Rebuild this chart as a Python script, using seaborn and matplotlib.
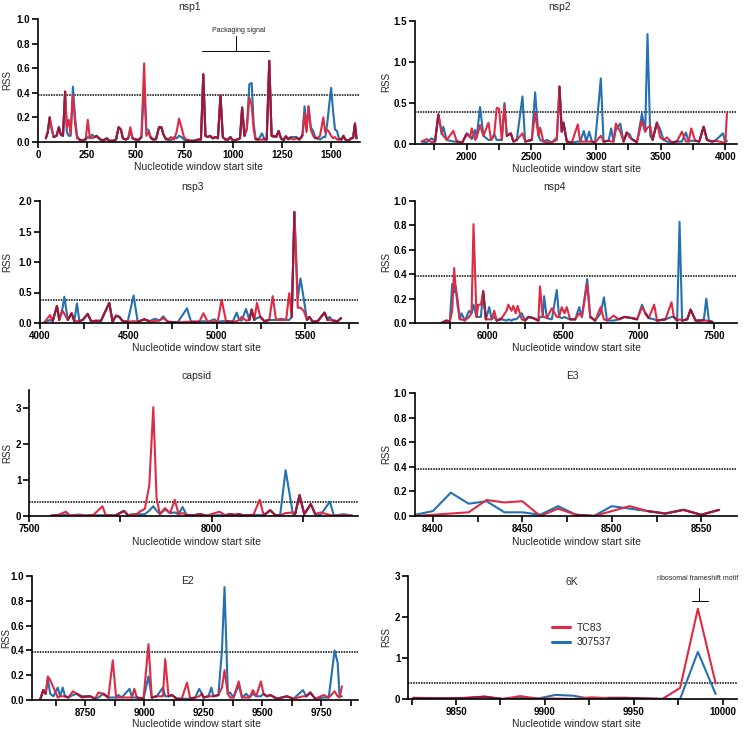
import numpy as np
import matplotlib
matplotlib.use("Agg")
import matplotlib.pyplot as plt
import seaborn as sns
from matplotlib.ticker import MultipleLocator, FormatStrFormatter
from matplotlib.lines import Line2D

sns.set_theme(style="ticks")
plt.rcParams["font.family"] = ["Liberation Sans", "DejaVu Sans"]
plt.rcParams["font.weight"] = "bold"

series_labels = ["TC83", "307537"]
threshold = 0.385

# ---------------- nsp1 ----------------
nsp1_pos = [40, 50, 60, 70, 80, 95, 107, 117, 128, 139,
            148, 158, 167, 179, 190, 200, 212, 230, 245, 255,
            265, 277, 290, 300, 312, 325, 340, 352, 365, 385,
            400, 413, 425, 435, 450, 462, 473, 485, 500, 515,
            530, 544, 555, 566, 578, 590, 605, 620, 632, 643,
            655, 668, 680, 697, 710, 723, 735, 748, 760, 780,
            800, 820, 835, 847, 858, 870, 882, 895, 910, 922,
            935, 947, 960, 975, 986, 1000, 1020, 1035, 1046, 1058,
            1070, 1083, 1095, 1105, 1115, 1130, 1148, 1158, 1172, 1185,
            1197, 1210, 1222, 1233, 1245, 1258, 1270, 1282, 1295, 1310,
            1325, 1340, 1355, 1366, 1376, 1386, 1398, 1410, 1420, 1432,
            1445, 1462, 1472, 1482, 1492, 1502, 1512, 1522, 1532, 1542,
            1555, 1565, 1575, 1590, 1605, 1615, 1624, 1632]
nsp1_tc83 = [.03, .08, .20, .12, .04, .05, .12, .06, .05, .41,
             .12, .18, .06, .38, .15, .03, .02, .01, .03, .18,
             .04, .03, .04, .05, .03, .01, .02, .03, .01, .01,
             .02, .12, .10, .03, .02, .03, .12, .03, .02, .02,
             .04, .64, .05, .08, .03, .02, .02, .12, .12, .06,
             .03, .02, .04, .02, .08, .19, .12, .04, .02, .01,
             .01, .02, .02, .55, .05, .04, .05, .03, .04, .03,
             .38, .04, .02, .02, .04, .01, .02, .03, .28, .05,
             .10, .36, .30, .10, .02, .02, .02, .02, .02, .66,
             .05, .05, .04, .09, .03, .02, .05, .02, .03, .02,
             .03, .02, .05, .23, .08, .29, .10, .05, .03, .03,
             .05, .20, .08, .10, .08, .05, .03, .04, .02, .02,
             .02, .05, .02, .01, .03, .04, .15, .03]
nsp1_307537 = [.03, .08, .20, .10, .04, .05, .12, .06, .05, .41,
               .08, .05, .05, .45, .20, .05, .02, .01, .02, .04,
               .03, .06, .04, .05, .03, .02, .01, .03, .01, .01,
               .02, .12, .10, .03, .02, .03, .08, .03, .02, .01,
               .04, .46, .10, .10, .04, .02, .03, .12, .12, .06,
               .02, .02, .01, .04, .03, .05, .04, .02, .01, .01,
               .01, .02, .02, .55, .05, .04, .05, .03, .04, .03,
               .38, .04, .02, .02, .04, .01, .02, .03, .28, .05,
               .12, .47, .48, .15, .03, .02, .07, .03, .02, .66,
               .05, .04, .05, .09, .03, .01, .04, .03, .04, .04,
               .04, .02, .06, .29, .10, .29, .12, .09, .04, .03,
               .02, .04, .04, .15, .30, .44, .25, .10, .09, .03,
               .02, .05, .02, .01, .03, .03, .15, .03]

# ---------------- nsp2 ----------------
nsp2_pos = [1652, 1690, 1729, 1755, 1781, 1806, 1819, 1845, 1897, 1923,
            1966, 2000, 2026, 2039, 2065, 2077, 2103, 2129, 2168, 2188,
            2212, 2232, 2250, 2271, 2292, 2310, 2341, 2361, 2387, 2431,
            2452, 2503, 2529, 2555, 2568, 2593, 2619, 2658, 2697, 2717,
            2735, 2748, 2774, 2813, 2859, 2877, 2906, 2924, 2947, 2968,
            2993, 3037, 3058, 3097, 3117, 3135, 3153, 3187, 3213, 3238,
            3259, 3277, 3316, 3355, 3380, 3398, 3419, 3437, 3471, 3496,
            3522, 3548, 3587, 3625, 3664, 3695, 3716, 3736, 3767, 3798,
            3832, 3858, 3896, 3922, 3981, 4000, 4012]
nsp2_tc83 = [.03, .06, .02, .03, .36, .15, .10, .05, .16, .03,
             .02, .12, .08, .19, .05, .08, .23, .10, .26, .05,
             .10, .44, .43, .05, .47, .10, .13, .03, .05, .13,
             .03, .05, .38, .10, .20, .03, .02, .02, .05, .70,
             .15, .26, .03, .02, .24, .03, .03, .03, .03, .03,
             .02, .10, .03, .04, .03, .03, .25, .15, .03, .14,
             .08, .06, .02, .28, .15, .20, .22, .05, .26, .08,
             .05, .08, .02, .03, .15, .03, .03, .19, .04, .03,
             .21, .05, .03, .04, .02, .02, .37]
nsp2_307537 = [.03, .02, .07, .03, .36, .12, .21, .05, .03, .03,
               .02, .13, .10, .06, .17, .08, .45, .10, .05, .05,
               .12, .05, .05, .05, .50, .10, .13, .03, .05, .58,
               .03, .05, .63, .10, .05, .03, .05, .02, .08, .70,
               .15, .26, .03, .02, .03, .03, .16, .03, .15, .03,
               .02, .80, .03, .04, .19, .03, .17, .25, .03, .14,
               .12, .06, .02, .37, .15, 1.34, .10, .05, .26, .18,
               .05, .03, .02, .03, .03, .14, .03, .04, .04, .03,
               .21, .05, .03, .04, .13, .02, .04]

# ---------------- nsp3 ----------------
nsp3_pos = [4025, 4057, 4072, 4096, 4109, 4128, 4138, 4157, 4179, 4194,
            4209, 4223, 4242, 4270, 4289, 4317, 4345, 4392, 4411, 4430,
            4449, 4468, 4496, 4530, 4553, 4591, 4619, 4651, 4676, 4698,
            4723, 4779, 4832, 4855, 4902, 4925, 4949, 4987, 5006, 5028,
            5053, 5091, 5113, 5128, 5142, 5166, 5185, 5198, 5213, 5228,
            5247, 5270, 5298, 5317, 5336, 5364, 5393, 5411, 5425, 5440,
            5459, 5474, 5493, 5511, 5525, 5544, 5572, 5610, 5628, 5638,
            5657, 5685, 5704]
nsp3_tc83 = [.01, .13, .03, .28, .05, .20, .15, .05, .16, .03,
             .03, .03, .05, .15, .03, .03, .04, .33, .02, .12,
             .10, .03, .02, .03, .02, .06, .03, .03, .04, .08,
             .02, .01, .02, .02, .02, .16, .02, .02, .02, .38,
             .03, .02, .03, .05, .10, .04, .05, .22, .05, .33,
             .10, .03, .05, .44, .05, .05, .05, .49, .10, 1.82,
             .25, .25, .20, .05, .10, .02, .03, .17, .05, .05,
             .04, .03, .08]
nsp3_307537 = [.01, .05, .03, .28, .05, .25, .43, .05, .16, .03,
               .32, .03, .05, .15, .03, .04, .03, .33, .02, .12,
               .10, .03, .02, .45, .02, .06, .03, .07, .04, .11,
               .02, .01, .24, .02, .02, .03, .02, .06, .02, .03,
               .03, .02, .17, .05, .04, .23, .05, .22, .05, .08,
               .10, .03, .05, .05, .05, .07, .05, .05, .10, 1.82,
               .40, .73, .40, .05, .10, .02, .03, .17, .05, .10,
               .04, .03, .08]

# ---------------- nsp4 ----------------
nsp4_pos = [5695, 5728, 5750, 5766, 5779, 5788, 5801, 5816, 5827, 5850,
            5878, 5894, 5907, 5927, 5938, 5956, 5971, 5989, 6011, 6027,
            6044, 6060, 6093, 6126, 6137, 6159, 6170, 6186, 6199, 6226,
            6248, 6270, 6303, 6336, 6347, 6365, 6374, 6392, 6425, 6458,
            6473, 6491, 6509, 6524, 6546, 6580, 6606, 6624, 6659, 6679,
            6712, 6748, 6770, 6790, 6834, 6867, 6907, 6956, 6989, 7022,
            7044, 7066, 7102, 7121, 7177, 7217, 7232, 7254, 7270, 7287,
            7321, 7343, 7376, 7409, 7431, 7447, 7464, 7486]
nsp4_tc83 = [.00, .02, .01, .10, .45, .30, .20, .03, .03, .02,
             .05, .08, .81, .05, .15, .15, .26, .03, .03, .03,
             .10, .02, .04, .10, .15, .10, .14, .08, .14, .03,
             .02, .05, .04, .02, .30, .05, .05, .04, .12, .05,
             .05, .13, .08, .13, .03, .03, .08, .05, .32, .05,
             .02, .13, .03, .02, .06, .03, .05, .04, .03, .13,
             .08, .04, .15, .02, .03, .17, .05, .02, .03, .02,
             .03, .11, .02, .02, .02, .02, .01, .01]
nsp4_307537 = [.00, .02, .01, .32, .25, .30, .15, .03, .08, .02,
               .10, .08, .15, .05, .05, .05, .26, .03, .13, .03,
               .05, .02, .03, .02, .03, .02, .03, .03, .04, .08,
               .02, .05, .04, .02, .05, .05, .22, .04, .03, .27,
               .05, .04, .05, .04, .03, .03, .13, .05, .36, .05,
               .02, .08, .21, .02, .02, .03, .05, .04, .03, .15,
               .08, .04, .03, .02, .03, .05, .05, .02, .83, .02,
               .03, .11, .02, .02, .03, .20, .02, .01]

# ---------------- capsid ----------------
capsid_pos = [7561, 7580, 7601, 7612, 7639, 7657, 7675, 7701, 7710, 7735,
              7760, 7771, 7781, 7794, 7803, 7817, 7829, 7840, 7849, 7858,
              7872, 7886, 7899, 7909, 7920, 7931, 7950, 7968, 7986, 8021,
              8037, 8050, 8064, 8073, 8087, 8114, 8131, 8142, 8160, 8174,
              8187, 8202, 8222, 8228, 8240, 8253, 8271, 8283, 8297, 8323,
              8334, 8361, 8384]
capsid_tc83 = [.01, .03, .12, .02, .02, .01, .02, .27, .02, .01,
               .14, .02, .03, .05, .12, .20, .85, 3.02, .50, .05,
               .22, .08, .45, .05, .08, .03, .02, .05, .01, .12,
               .02, .05, .03, .05, .02, .03, .45, .02, .16, .02,
               .02, .08, .10, .05, .58, .05, .33, .05, .10, .03,
               .01, .02, .01]
capsid_307537 = [.01, .02, .04, .02, .04, .01, .02, .02, .02, .01,
                 .14, .02, .05, .05, .05, .05, .15, .27, .15, .05,
                 .18, .08, .10, .05, .25, .03, .02, .05, .01, .02,
                 .02, .05, .03, .05, .02, .03, .03, .02, .16, .02,
                 .02, 1.27, .05, .05, .58, .05, .33, .05, .02, .40,
                 .01, .05, .01]

# ---------------- E3 ----------------
e3_pos = [8390, 8400, 8410, 8420, 8430, 8440, 8450, 8460, 8470, 8480,
          8490, 8500, 8510, 8520, 8530, 8540, 8550, 8560]
e3_tc83 = [.00, .01, .02, .03, .13, .11, .12, .00, .06, .01,
           .00, .04, .08, .04, .02, .05, .01, .05]
e3_307537 = [.01, .04, .19, .10, .12, .03, .03, .01, .08, .01,
             .00, .08, .06, .04, .02, .05, .01, .05]

# ---------------- E2 ----------------
e2_pos = [8559, 8573, 8583, 8592, 8602, 8616, 8634, 8644, 8655, 8665,
          8679, 8698, 8715, 8736, 8771, 8792, 8806, 8827, 8848, 8867,
          8881, 8891, 8905, 8938, 8948, 8958, 8969, 8997, 9018, 9032,
          9053, 9079, 9089, 9103, 9117, 9138, 9159, 9181, 9195, 9216,
          9233, 9244, 9251, 9272, 9284, 9293, 9314, 9329, 9340, 9354,
          9364, 9378, 9400, 9414, 9432, 9446, 9460, 9474, 9494, 9505,
          9519, 9534, 9562, 9604, 9632, 9672, 9686, 9703, 9724, 9760,
          9781, 9806, 9819, 9827, 9837]
e2_tc83 = [.00, .08, .05, .19, .16, .10, .02, .03, .03, .03,
           .02, .07, .05, .02, .03, .01, .06, .05, .02, .32,
           .02, .02, .02, .02, .02, .09, .02, .01, .45, .02,
           .03, .03, .33, .03, .04, .01, .01, .14, .01, .02,
           .03, .05, .02, .03, .03, .03, .04, .10, .24, .05,
           .02, .02, .15, .02, .02, .02, .08, .03, .15, .05,
           .03, .04, .01, .03, .01, .03, .03, .06, .01, .04,
           .02, .07, .03, .02, .11]
e2_307537 = [.00, .08, .05, .17, .05, .03, .10, .03, .10, .03,
             .02, .04, .05, .03, .03, .01, .02, .05, .02, .02,
             .02, .04, .02, .09, .02, .02, .02, .01, .19, .02,
             .03, .10, .03, .03, .04, .01, .01, .01, .01, .02,
             .09, .05, .02, .03, .10, .03, .04, .40, .91, .05,
             .06, .02, .12, .02, .05, .02, .05, .03, .03, .05,
             .03, .04, .01, .03, .01, .08, .03, .06, .01, .02,
             .02, .40, .30, .03, .03]

# ---------------- 6K ----------------
k6_pos = [9826, 9836, 9846, 9856, 9866, 9876, 9886, 9896, 9906, 9916,
          9926, 9936, 9946, 9956, 9966, 9976, 9986, 9996]
k6_tc83 = [.03, .02, .02, .03, .06, .00, .07, .01, .01, .00,
           .04, .02, .02, .01, .00, .27, 2.20, .38]
k6_307537 = [.02, .01, .01, .02, .05, .00, .03, .01, .10, .08,
             .00, .03, .03, .01, .00, .00, 1.15, .12]

# annotations
pack_text = "Packaging signal"
pack_span = [842, 1182]
pack_mid = 1015
pack_y = [0.74, 0.86]
rfs_text = "ribosomal frameshift motif"
rfs_span = [9982.6, 9991.5]
rfs_mid = 9986.8
rfs_y = [2.38, 2.70]

RED = "#dc2b44"
BLUE = "#2470b0"
DARK = "#951a3b"
LW = 1.5

W, H = 750, 730
fig = plt.figure(figsize=(7.5, 7.3), dpi=100)


def axes_px(l, t, r, b):
    return fig.add_axes([l / W, 1 - b / H, (r - l) / W, (b - t) / H])


def ftext(x, y, s, **kw):
    kw.setdefault("fontweight", "normal")
    kw.setdefault("fontsize", 7.5)
    fig.text(x / W, 1 - y / H, s, ha="center", va="center", **kw)


def panel(box, pos, tc, vb, xlim, ylim, xmaj, xmin, ymaj, yfmt,
          title, title_xy, xlab_xy, ylab_xy):
    ax = axes_px(*box)
    pos = np.asarray(pos, float)
    tc = np.asarray(tc, float)
    vb = np.asarray(vb, float)
    sns.lineplot(x=pos, y=vb, ax=ax, color=BLUE, linewidth=LW,
                 estimator=None, sort=False, legend=False)
    sns.lineplot(x=pos, y=tc, ax=ax, color=RED, linewidth=LW,
                 estimator=None, sort=False, legend=False)
    both = np.where(np.isclose(tc, vb, atol=0.012), (tc + vb) / 2, np.nan)
    ax.plot(pos, both, color=DARK, linewidth=LW, solid_capstyle="round")
    ax.axhline(threshold, color="black", linewidth=1.1, ls=(0, (1, 0.7)),
               zorder=1)
    ax.set_xlim(*xlim)
    ax.set_ylim(*ylim)
    ax.xaxis.set_major_locator(MultipleLocator(xmaj))
    if xmin:
        ax.xaxis.set_minor_locator(MultipleLocator(xmin))
    ax.yaxis.set_major_locator(MultipleLocator(ymaj))
    ax.yaxis.set_major_formatter(FormatStrFormatter(yfmt))
    ax.set_xlabel("")
    ax.set_ylabel("")
    sns.despine(ax=ax)
    for s in ("left", "bottom"):
        ax.spines[s].set_linewidth(1.2)
        ax.spines[s].set_color("black")
    ax.tick_params(axis="both", which="both", direction="out", length=4,
                   width=1.2, colors="black", labelsize=7, pad=1.5)
    ax.tick_params(axis="y", which="minor", length=0)
    ftext(*title_xy, title)
    ftext(*xlab_xy, "Nucleotide window start site")
    ftext(*ylab_xy, "RSS", rotation=90, fontsize=7)
    return ax


ax1 = panel((38, 19, 360, 142), nsp1_pos, nsp1_tc83, nsp1_307537,
            (0, 1650), (0, 1.0), 250, None, 0.2, "%.1f",
            "nsp1", (190, 7), (198, 167), (7, 80))
ax1.plot(pack_span, [pack_y[0], pack_y[0]], color="black", lw=0.7)
ax1.plot([pack_mid, pack_mid], pack_y, color="black", lw=0.7)
ax1.text(np.mean(pack_span) + 18, 0.905, pack_text, ha="center",
         va="center", fontsize=5, fontweight="normal")

panel((415, 21, 737, 144), nsp2_pos, nsp2_tc83, nsp2_307537,
      (1600, 4090), (0, 1.5), 500, 250, 0.5, "%.1f",
      "nsp2", (560, 7), (577, 169), (386, 82))

panel((40, 201, 358, 323), nsp3_pos, nsp3_tc83, nsp3_307537,
      (4000, 5800), (0, 2.0), 500, 250, 0.5, "%.1f",
      "nsp3", (193, 187), (197, 348), (7, 262))

panel((415, 201, 737, 323), nsp4_pos, nsp4_tc83, nsp4_307537,
      (5520, 7650), (0, 1.0), 500, 250, 0.2, "%.1f",
      "nsp4", (555, 187), (577, 348), (386, 262))

panel((29, 390, 358, 516), capsid_pos, capsid_tc83, capsid_307537,
      (7500, 8400), (0, 3.5), 500, 250, 1, "%d",
      "capsid", (197, 376), (197, 542), (7, 453))

panel((415, 393, 737, 516), e3_pos, e3_tc83, e3_307537,
      (8390, 8570), (0, 1.0), 50, 25, 0.2, "%.1f",
      "E3", (572, 376), (577, 542), (386, 454))

panel((32, 576, 358, 700), e2_pos, e2_tc83, e2_307537,
      (8525, 9905), (0, 1.0), 250, 125, 0.2, "%.1f",
      "E2", (188, 581), (197, 724), (6, 638))

ax8 = panel((408, 576, 737, 699), k6_pos, k6_tc83, k6_307537,
            (9823, 10008), (0, 3.0), 50, 25, 1, "%d",
            "6K", (572, 582), (577, 724), (386, 637))
ax8.plot(rfs_span, [rfs_y[0], rfs_y[0]], color="black", lw=0.7, clip_on=False)
ax8.plot([rfs_mid, rfs_mid], rfs_y, color="black", lw=0.7, clip_on=False)
ax8.text(rfs_mid - 1, 2.94, rfs_text, ha="center", va="center",
         fontsize=5, fontweight="normal", clip_on=False)
handles = [Line2D([], [], color=RED, lw=2.2), Line2D([], [], color=BLUE, lw=2.2)]
ax8.legend(handles, series_labels, loc="center left",
           bbox_to_anchor=(0.425, 0.52), frameon=False,
           prop={"size": 7.5, "weight": "normal"}, handlelength=1.7,
           handletextpad=0.7, labelspacing=0.45, borderaxespad=0)

fig.savefig("out.png", dpi=100)
